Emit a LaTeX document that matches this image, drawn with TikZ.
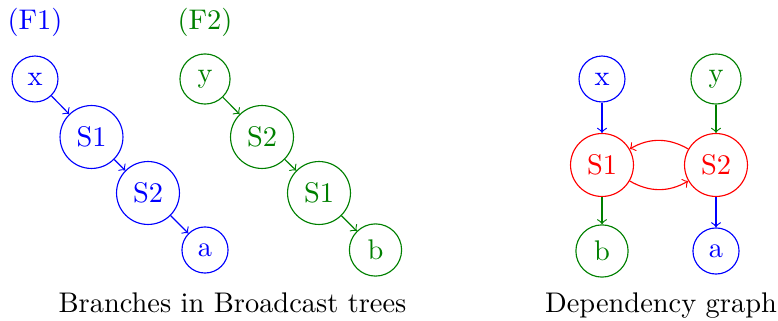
\documentclass[tikz,border=0pt]{standalone}
\usetikzlibrary{arrows}
\definecolor{myblue}{RGB}{0,0,255}
\definecolor{mygreen}{RGB}{0,128,0}
\definecolor{myred}{RGB}{255,0,0}
\tikzset{
  vtx/.style={circle,draw},
  bl/.style={vtx,myblue,text=myblue},
  gr/.style={vtx,mygreen,text=mygreen},
  rd/.style={vtx,myred,text=myred},
  arr/.style={->},
}
\begin{document}
\begin{tikzpicture}[x=0.3521pt,y=-0.3521pt]
\useasboundingbox (0,0) rectangle (778,321);
% F1
\node[anchor=base,text=myblue] (f1) at (35,30) {(F1)};
\node[bl] (x1) at (35,79) {x};
\node[bl] (a1) at (91.5,137) {S1};
\node[bl] (b1) at (148,193) {S2};
\node[bl] (c1) at (205,250) {a};
\draw[arr,myblue] (x1) -- (a1);
\draw[arr,myblue] (a1) -- (b1);
\draw[arr,myblue] (b1) -- (c1);
% F2
\node[anchor=base,text=mygreen] (f2) at (205,30) {(F2)};
\node[gr] (y2) at (205,79) {y};
\node[gr] (a2) at (262,137) {S2};
\node[gr] (b2) at (319,193) {S1};
\node[gr] (c2) at (375.5,250) {b};
\draw[arr,mygreen] (y2) -- (a2);
\draw[arr,mygreen] (a2) -- (b2);
\draw[arr,mygreen] (b2) -- (c2);
% dependency graph
\node[bl] (dx) at (602,79) {x};
\node[gr] (dy) at (716,79) {y};
\node[rd] (ds1) at (602,165) {S1};
\node[rd] (ds2) at (716,165) {S2};
\node[gr] (db) at (602,251) {b};
\node[bl] (da) at (716,251) {a};
\draw[arr,myblue] (dx) -- (ds1);
\draw[arr,mygreen] (dy) -- (ds2);
\draw[arr,mygreen] (ds1) -- (db);
\draw[arr,myblue] (ds2) -- (da);
\draw[arr,myred] (ds1) to[bend right=30] (ds2);
\draw[arr,myred] (ds2) to[bend right=30] (ds1);
% captions
\node[anchor=base] (cap1) at (232.5,313) {Branches in Broadcast trees};
\node[anchor=base] (cap2) at (661,313) {Dependency graph};
\end{tikzpicture}
\end{document}
